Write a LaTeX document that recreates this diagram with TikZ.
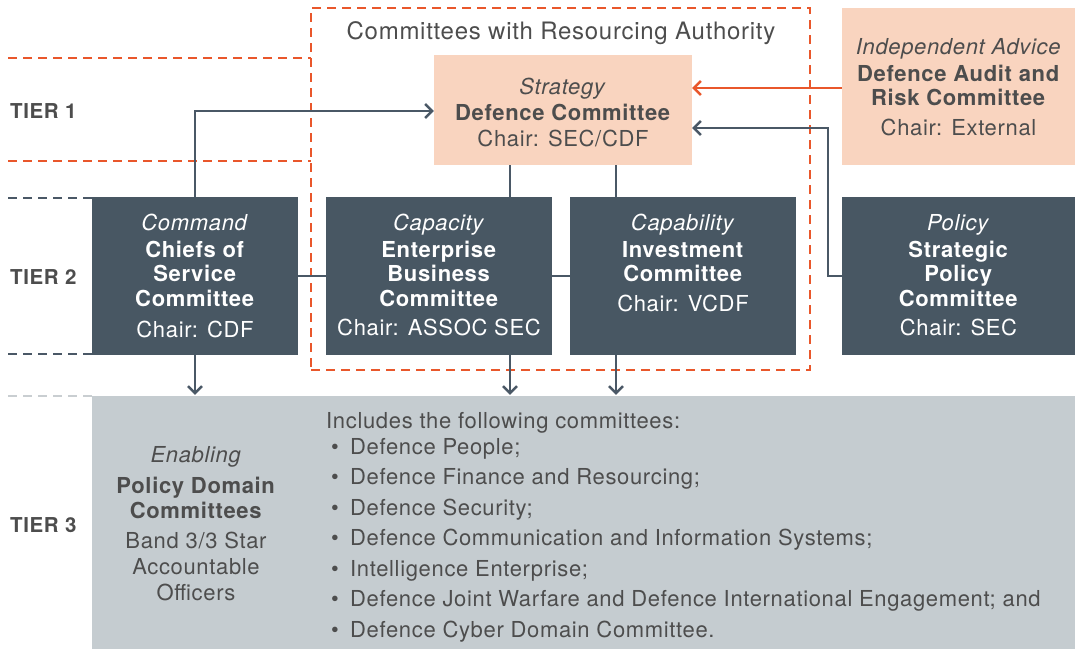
\documentclass[tikz,border=0pt]{standalone}
\usepackage{fontspec}
\setmainfont{TeX Gyre Heros}[LetterSpace=3]
\usetikzlibrary{arrows.meta}
\definecolor{slate}{HTML}{485763}
\definecolor{peach}{HTML}{F9D4BF}
\definecolor{flame}{HTML}{E9572B}
\definecolor{ink}{HTML}{4D4D4D}
\definecolor{mist}{HTML}{C5CCD0}
\definecolor{mistline}{HTML}{C9CED1}
\definecolor{wire}{HTML}{4A5866}
\tikzset{
  body/.style={font=\fontsize{22}{24.5}\selectfont},
  darkbox/.style={fill=slate, draw=none, inner sep=0pt},
  peachbox/.style={fill=peach, draw=none, inner sep=0pt},
  boxtext/.style={body, align=center, inner sep=0pt, anchor=north},
  tier/.style={font=\fontsize{20.5}{24}\selectfont\bfseries, text=ink, anchor=west, inner sep=0pt},
  conn/.style={draw=wire, line width=2.4pt},
  tip/.style={-{Straight Barb[length=7pt,width=14pt,line width=2.4pt]}},
  redash/.style={draw=flame, line width=2pt, dash pattern=on 9pt off 6pt},
  slatedash/.style={draw=wire, line width=2pt, dash pattern=on 9pt off 6pt},
  mistdash/.style={draw=mistline, line width=2pt, dash pattern=on 9pt off 6pt},
}
\newcommand\bl[1]{\textbf{#1}}
\newcommand\itm[1]{\hspace*{5pt}\makebox[19pt][l]{•}#1}
\begin{document}
\begin{tikzpicture}[x=1pt,y=-1pt]
\useasboundingbox (0,0) rectangle (1075,649);

% tier separators
\draw[redash] (8,58) -- (311,58);
\draw[redash] (8,161) -- (311,161);
\draw[slatedash] (8,198) -- (92,198);
\draw[slatedash] (8,354) -- (92,354);
\draw[mistdash] (8,396) -- (92,396);

% tier labels
\node[tier] (t1) at (10,111) {TIER 1};
\node[tier] (t2) at (10,277) {TIER 2};
\node[tier] (t3) at (10,525) {TIER 3};

% tier 3 band
\node[fill=mist, draw=none, inner sep=0pt, minimum width=983pt, minimum height=253pt] (tier3) at (583.5,522.5) {};

% committees with resourcing authority
\node[redash, fill=none, inner sep=0pt, minimum width=499pt, minimum height=362pt] (rab) at (560.5,189) {};
\node[font=\fontsize{24}{28}\selectfont, text=ink, inner sep=0pt] (rabt) at (561,33) {Committees with Resourcing Authority};

% tier 1 boxes
\node[peachbox, minimum width=258pt, minimum height=110pt] (dc) at (563,110) {};
\node[boxtext, text=ink] (dct) at ([yshift=-23.5pt]dc.north) {\textit{Strategy}\\[1.5pt]\bl{Defence Committee}\\[1.5pt]Chair: SEC/CDF};
\node[peachbox, minimum width=233pt, minimum height=157pt] (darc) at (958.5,86.5) {};
\node[boxtext, text=ink] (darct) at ([yshift=-30pt]darc.north) {\textit{Independent Advice}\\[2.5pt]\bl{Defence Audit and}\\\bl{Risk Committee}\\[5.5pt]Chair: External};

% tier 2 boxes
\node[darkbox, minimum width=206pt, minimum height=158pt] (cosc) at (195,276) {};
\node[boxtext, text=white] (cosct) at ([yshift=-17pt]cosc.north) {\textit{Command}\\[2.5pt]\bl{Chiefs of}\\\bl{Service}\\\bl{Committee}\\[7pt]Chair: CDF};
\node[darkbox, minimum width=226pt, minimum height=158pt] (ebc) at (439,276) {};
\node[boxtext, text=white] (ebct) at ([yshift=-17pt]ebc.north) {\textit{Capacity}\\[2.5pt]\bl{Enterprise}\\\bl{Business}\\\bl{Committee}\\[5pt]Chair: ASSOC SEC};
\node[darkbox, minimum width=226pt, minimum height=158pt] (ic) at (683,276) {};
\node[boxtext, text=white] (ict) at ([yshift=-17pt]ic.north) {\textit{Capability}\\[2.5pt]\bl{Investment}\\\bl{Committee}\\[5.5pt]Chair: VCDF};
\node[darkbox, minimum width=233pt, minimum height=158pt] (spc) at (958.5,276) {};
\node[boxtext, text=white] (spct) at ([yshift=-17pt]spc.north) {\textit{Policy}\\[2.5pt]\bl{Strategic}\\\bl{Policy}\\\bl{Committee}\\[5pt]Chair: SEC};

% tier 3 text
\node[boxtext, text=ink, font=\fontsize{22}{24.5}\selectfont] (pdc) at (196,446.5) {\textit{Enabling}\\[6.5pt]\bl{Policy Domain}\\\bl{Committees}\\[5.5pt]Band 3/3 Star\\[2pt]Accountable\\[1.5pt]Officers};
\node[text=ink, font=\fontsize{22}{30.5}\selectfont, align=left, anchor=north west, inner sep=0pt] (pdcl) at (326,412) {Includes the following committees:\\[-4.5pt]
\itm{Defence People;}\\
\itm{Defence Finance and Resourcing;}\\
\itm{Defence Security;}\\
\itm{Defence Communication and Information Systems;}\\
\itm{Intelligence Enterprise;}\\
\itm{Defence Joint Warfare and Defence International Engagement; and}\\
\itm{Defence Cyber Domain Committee.}};

% connectors
\coordinate (xe) at (510,0);
\coordinate (xi) at (616,0);
\coordinate (xsp) at (828,0);
\coordinate (ysp) at (0,128);
\coordinate (yaud) at (0,88);
\coordinate (ycos) at (0,111);

\draw[conn, tip] (cosc.north) |- (dc.west |- ycos);
\draw[conn] (dc.south -| xe) -- (ebc.north -| xe);
\draw[conn] (dc.south -| xi) -- (ic.north -| xi);
\draw[conn] (cosc.east) -- (ebc.west);
\draw[conn] (ebc.east) -- (ic.west);
\draw[conn, tip] (spc.west) -- (spc.west -| xsp) -- (xsp |- ysp) -- (dc.east |- ysp);
\draw[draw=flame, line width=2.4pt, -{Straight Barb[length=7pt,width=14pt,line width=2.4pt]}] (darc.west |- yaud) -- (dc.east |- yaud);
\draw[conn, tip] (cosc.south) -- ([yshift=1pt]cosc.south |- tier3.north);
\draw[conn, tip] (ebc.south -| xe) -- ([yshift=1pt]tier3.north -| xe);
\draw[conn, tip] (ic.south -| xi) -- ([yshift=1pt]tier3.north -| xi);
\end{tikzpicture}
\end{document}
